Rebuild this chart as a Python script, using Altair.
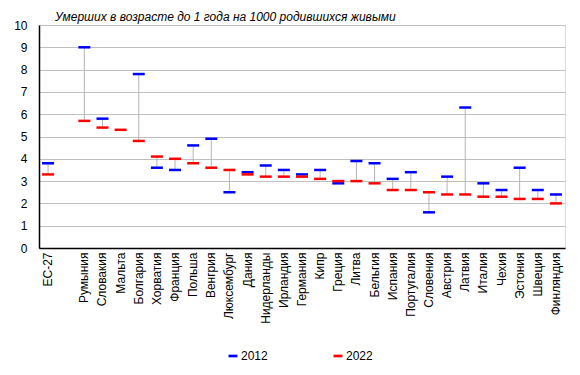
import altair as alt
import pandas as pd

countries = ["ЕС-27", " ", "Румыния", "Словакия", "Мальта", "Болгария", "Хорватия", "Франция",
             "Польша", "Венгрия", "Люксембург", "Дания", "Нидерланды", "Ирландия", "Германия",
             "Кипр", "Греция", "Литва", "Бельгия", "Испания", "Португалия", "Словения",
             "Австрия", "Латвия", "Италия", "Чехия", "Эстония", "Швеция", "Финляндия"]
v2012 = [3.8, None, 9.0, 5.8, None, 7.8, 3.6, 3.5, 4.6, 4.9, 2.5, 3.4, 3.7, 3.5, 3.3,
         3.5, 2.9, 3.9, 3.8, 3.1, 3.4, 1.6, 3.2, 6.3, 2.9, 2.6, 3.6, 2.6, 2.4]
v2022 = [3.3, None, 5.7, 5.4, 5.3, 4.8, 4.1, 4.0, 3.8, 3.6, 3.5, 3.3, 3.2, 3.2, 3.2,
         3.1, 3.0, 3.0, 2.9, 2.6, 2.6, 2.5, 2.4, 2.4, 2.3, 2.3, 2.2, 2.2, 2.0]
years = ["2012", "2022"]
colors = ["#0000ff", "#ff0000"]

wide = pd.DataFrame({"country": countries, "v2012": v2012, "v2022": v2022})
long_rows = []
for c, a, b in zip(countries, v2012, v2022):
    if a is not None:
        long_rows.append({"country": c, "year": years[0], "value": a})
    if b is not None:
        long_rows.append({"country": c, "year": years[1], "value": b})
long = pd.DataFrame(long_rows)

xenc = alt.X("country:N", sort=countries, title=None,
             scale=alt.Scale(domain=countries, paddingInner=0, paddingOuter=0),
             axis=alt.Axis(labelAngle=-90, labelFontSize=12, labelColor="#000",
                           labelFont="Liberation Sans", ticks=False, domainColor="#000",
                           domainWidth=1.5, grid=False, labelPadding=4))
yscale = alt.Scale(domain=[0, 10], nice=False)
yaxis = alt.Axis(tickCount=10, tickMinStep=1, labelOverlap=False, labelFontSize=12,
                 labelColor="#000", labelFont="Liberation Sans", ticks=False,
                 domainColor="#000", domainWidth=1.5, gridColor="#c0c0c0", gridWidth=1,
                 labelPadding=12)

rules = alt.Chart(wide.dropna()).mark_rule(color="#b4b4b4", strokeWidth=1).encode(
    x=xenc,
    y=alt.Y("v2012:Q", scale=yscale, title=None, axis=yaxis),
    y2="v2022:Q",
)

ticks = alt.Chart(long).mark_tick(size=12, thickness=2.5, opacity=1).encode(
    x=xenc,
    y=alt.Y("value:Q", scale=yscale, title=None, axis=yaxis),
    color=alt.Color("year:N", scale=alt.Scale(domain=years, range=colors), title=None,
                    legend=alt.Legend(orient="none", legendX=188, legendY=325,
                                      direction="horizontal",
                                      symbolType="M-1,-0.3H1V0.3H-1Z",
                                      symbolSize=80, symbolStrokeWidth=0,
                                      symbolOpacity=1,
                                      labelFontSize=12, labelFont="Liberation Sans",
                                      labelColor="#000", columnPadding=64, labelOffset=2)),
    order=alt.Order("year:N"),
)

chart = alt.layer(rules, ticks).properties(
    width=526, height=223,
    autosize=alt.AutoSizeParams(type="none"),
    padding={"left": 39, "top": 25, "right": 15, "bottom": 127},
    title=alt.TitleParams("Умерших в возрасте до 1 года на 1000 родившихся живыми",
                          anchor="start", frame="group", dx=16, dy=9, offset=4, fontSize=12,
                          fontStyle="italic", fontWeight="normal", font="Liberation Sans",
                          color="#000"),
).configure_view(stroke="#888888", strokeWidth=1).configure(background="#ffffff")

chart.save("out.html", embed_options={"renderer": "svg", "actions": False})
